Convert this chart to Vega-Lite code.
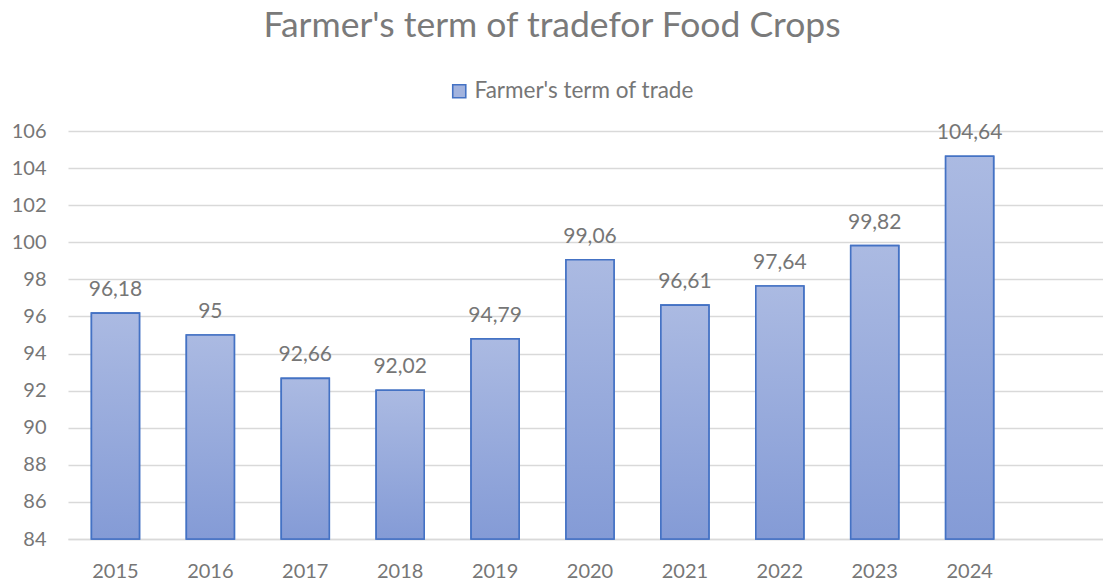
{
  "$schema": "https://vega.github.io/schema/vega-lite/v6.json",
  "autosize": "none",
  "width": 1044,
  "height": 408,
  "padding": {"left": 68, "top": 131, "right": 0, "bottom": 41},
  "background": "white",
  "config": {
    "locale": {"number": {"decimal": ",", "thousands": ".", "grouping": [3], "currency": ["", " €"]}},
    "font": "Lato",
    "view": {"stroke": null}
  },
  "title": {
    "text": "Farmer's term of tradefor Food Crops",
    "fontSize": 35.5,
    "font": "Lato",
    "fontWeight": "normal",
    "color": "#7a7a7a",
    "anchor": "middle",
    "dx": -38,
    "offset": 36
  },
  "data": {
    "values": [
      {"year": "2015", "value": 96.18},
      {"year": "2016", "value": 95},
      {"year": "2017", "value": 92.66},
      {"year": "2018", "value": 92.02},
      {"year": "2019", "value": 94.79},
      {"year": "2020", "value": 99.06},
      {"year": "2021", "value": 96.61},
      {"year": "2022", "value": 97.64},
      {"year": "2023", "value": 99.82},
      {"year": "2024", "value": 104.64}
    ]
  },
  "encoding": {
    "x": {
      "field": "year",
      "type": "nominal",
      "sort": null,
      "scale": {"domain": ["2015","2016","2017","2018","2019","2020","2021","2022","2023","2024"," "], "paddingInner": 0.494, "paddingOuter": 0.247},
      "axis": {
        "title": null,
        "labelAngle": 0,
        "labelFontSize": 20,
        "labelColor": "#767676",
        "labelPadding": 22,
        "ticks": false,
        "domain": true,
        "domainColor": "#d9d9d9",
        "domainWidth": 1.3,
        "grid": false
      }
    },
    "y": {
      "field": "value",
      "type": "quantitative",
      "scale": {"domain": [84, 106], "zero": false, "nice": false},
      "axis": {
        "title": null,
        "values": [84,86,88,90,92,94,96,98,100,102,104,106],
        "labelFontSize": 20,
        "labelColor": "#767676",
        "labelPadding": 22,
        "ticks": false,
        "domain": false,
        "gridColor": "#d9d9d9",
        "gridWidth": 1.3
      }
    }
  },
  "layer": [
    {
      "mark": {
        "type": "bar",
        "stroke": "#4472c4",
        "strokeWidth": 1.6
      },
      "encoding": {
        "y2": {"datum": 84},
        "fill": {
          "datum": "Farmer's term of trade",
          "type": "nominal",
          "scale": {"range": ["#a2b3de"]},
          "legend": {
            "title": null,
            "orient": "none",
            "legendX": 380,
            "legendY": -51,
            "symbolType": "square",
            "symbolSize": 170,
            "symbolOpacity": 1,
            "symbolStrokeColor": "#4472c4",
            "symbolStrokeWidth": 1.6,
            "labelFontSize": 22.5,
            "labelLimit": 500,
            "labelColor": "#767676",
            "labelOffset": 4
          }
        }
      }
    },
    {
      "mark": {
        "type": "bar",
        "stroke": "#4472c4",
        "strokeWidth": 1.6,
        "fill": {"gradient": "linear", "x1": 0, "y1": 0, "x2": 0, "y2": 1, "stops": [{"offset": 0, "color": "#abbae2"}, {"offset": 1, "color": "#849bd6"}]}
      },
      "encoding": {
        "y2": {"datum": 84}
      }
    },
    {
      "mark": {
        "type": "text",
        "baseline": "alphabetic",
        "dy": -17,
        "fontSize": 21,
        "color": "#767676"
      },
      "encoding": {
        "text": {"field": "value", "type": "quantitative", "format": "~f"}
      }
    }
  ]
}
